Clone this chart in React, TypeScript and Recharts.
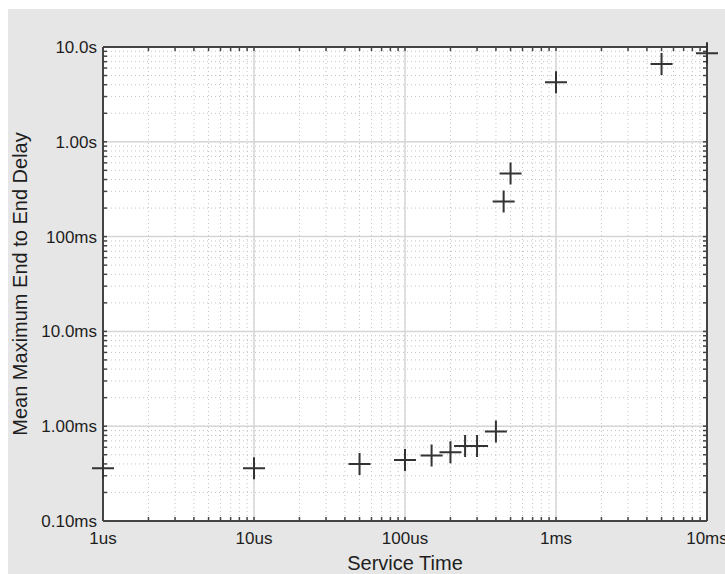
import React from 'react';
import { ScatterChart, Scatter, XAxis, YAxis, CartesianGrid, ZAxis } from 'recharts';

// service time (s) vs mean maximum end-to-end delay (s)
const serviceTime = [1e-6, 1e-5, 5e-5, 1e-4, 1.5e-4, 2e-4, 2.5e-4, 3e-4, 4e-4, 4.5e-4, 5e-4, 1e-3, 5e-3, 1e-2];
const meanMaxDelay = [3.6e-4, 3.6e-4, 4.0e-4, 4.4e-4, 4.9e-4, 5.3e-4, 6.2e-4, 6.2e-4, 8.8e-4, 0.234, 0.462, 4.26, 6.6, 8.6];

const xMajor = [1e-6, 1e-5, 1e-4, 1e-3, 1e-2];
const xLabels = ['1us', '10us', '100us', '1ms', '10ms'];
const yMajor = [1e-4, 1e-3, 1e-2, 1e-1, 1, 10];
const yLabels = ['0.10ms', '1.00ms', '10.0ms', '100ms', '1.00s', '10.0s'];
const minorSteps = [1, 2, 3, 4, 5, 6, 7, 8, 9];

const withMinors = (majors: number[]) => {
    const out: number[] = [];
    majors.slice(0, -1).forEach((m) => minorSteps.forEach((k) => out.push(m * k)));
    out.push(majors[majors.length - 1]);
    return out;
};
const xMinor = withMinors(xMajor);
const yMinor = withMinors(yMajor);

const data = serviceTime.map((t, i) => ({ t, d: meanMaxDelay[i] }));

const FONT = '"Liberation Sans", Arial, Helvetica, sans-serif';
const AXIS_COLOR = '#444';
const TEXT_COLOR = '#1e1e1e';

const labelFor = (values: number[], labels: string[]) => (v: number) => {
    const i = values.findIndex((m) => Math.abs(m - v) / m < 1e-6);
    return i >= 0 ? labels[i] : '';
};

const Plus = (props: any) => {
    const { cx, cy } = props;
    if (cx == null || cy == null) return null;
    return (
        <path
            d={`M${cx - 11},${cy}H${cx + 11}M${cx},${cy - 11}V${cy + 11}`}
            stroke="#333"
            strokeWidth={2}
            fill="none"
        />
    );
};

const Nothing = () => null;
const NoLabel = () => <g />;

const App: React.FC = () => {
    const xDomain: [number, number] = [xMajor[0], xMajor[xMajor.length - 1]];
    const yDomain: [number, number] = [yMajor[0], yMajor[yMajor.length - 1]];
    const minorTick = { stroke: AXIS_COLOR, strokeWidth: 1.5 };

    return (
        <div style={{ position: 'fixed', left: 8, top: 9, width: 717, height: 565, background: '#e6e6e6' }}>
            <ScatterChart width={717} height={565} margin={{ top: 38, right: 18, left: 0, bottom: 0 }} style={{ fontFamily: FONT }}>
                <XAxis xAxisId="major" dataKey="t" type="number" scale="log" domain={xDomain}
                    ticks={xMajor} tickFormatter={labelFor(xMajor, xLabels)} interval={0}
                    height={53} tickSize={0} tickMargin={11} tickLine={false}
                    axisLine={{ stroke: AXIS_COLOR, strokeWidth: 2 }}
                    tick={{ fill: TEXT_COLOR, fontSize: 17 }}
                    label={{ value: 'Service Time', position: 'insideBottom', offset: 4, style: { fill: TEXT_COLOR, fontSize: 20 } }}
                />
                <XAxis xAxisId="minorB" dataKey="t" type="number" scale="log" domain={xDomain}
                    ticks={xMinor} interval={0} height={1} mirror tick={NoLabel} tickSize={4}
                    tickLine={minorTick} axisLine={false}
                />
                <XAxis xAxisId="minorT" dataKey="t" orientation="top" type="number" scale="log" domain={xDomain}
                    ticks={xMinor} interval={0} height={1} mirror tick={NoLabel} tickSize={4}
                    tickLine={minorTick} axisLine={{ stroke: AXIS_COLOR, strokeWidth: 2 }}
                />
                <YAxis yAxisId="major" dataKey="d" type="number" scale="log" domain={yDomain}
                    ticks={yMajor} tickFormatter={labelFor(yMajor, yLabels)} interval={0}
                    width={95} tickSize={0} tickMargin={6} tickLine={false}
                    axisLine={{ stroke: AXIS_COLOR, strokeWidth: 2 }}
                    tick={{ fill: TEXT_COLOR, fontSize: 17 }}
                    label={{ value: 'Mean Maximum End to End Delay', angle: -90, position: 'insideLeft', offset: 12, style: { textAnchor: 'middle', fill: TEXT_COLOR, fontSize: 20 } }}
                />
                <YAxis yAxisId="minorL" dataKey="d" type="number" scale="log" domain={yDomain}
                    ticks={yMinor} interval={0} width={1} mirror tick={NoLabel} tickSize={4}
                    tickLine={minorTick} axisLine={false}
                />
                <YAxis yAxisId="minorR" dataKey="d" orientation="right" type="number" scale="log" domain={yDomain}
                    ticks={yMinor} interval={0} width={1} mirror tick={NoLabel} tickSize={4}
                    tickLine={minorTick} axisLine={{ stroke: AXIS_COLOR, strokeWidth: 2 }}
                />
                <ZAxis range={[60, 60]} />
                <CartesianGrid xAxisId="minorB" yAxisId="minorL" fill="#ffffff" stroke="#c4c4c4" strokeDasharray="1 3" />
                <CartesianGrid xAxisId="major" yAxisId="major" stroke="#d6d6d6" strokeWidth={1.5} />
                <Scatter xAxisId="minorB" yAxisId="minorL" data={data} shape={Nothing} isAnimationActive={false} />
                <Scatter xAxisId="minorT" yAxisId="minorR" data={data} shape={Nothing} isAnimationActive={false} />
                <Scatter xAxisId="major" yAxisId="major" data={data} shape={Plus} isAnimationActive={false} />
            </ScatterChart>
        </div>
    );
};

export default App;
